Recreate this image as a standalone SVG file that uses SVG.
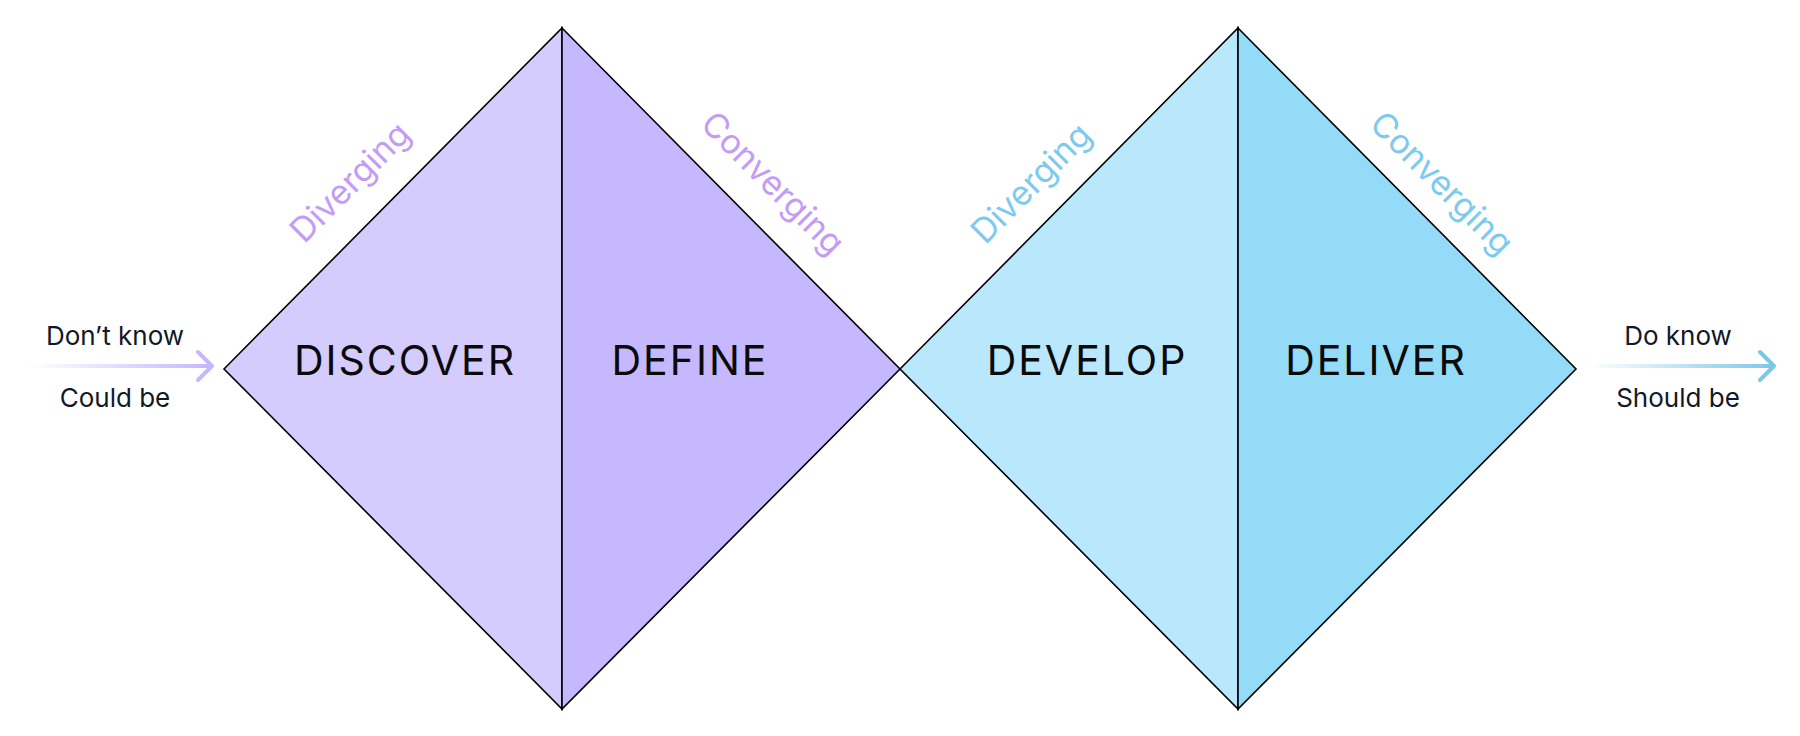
<svg xmlns="http://www.w3.org/2000/svg" width="1800" height="736" viewBox="0 0 1800 736">
<defs>
<linearGradient id="gl" gradientUnits="userSpaceOnUse" x1="28" y1="0" x2="212" y2="0">
<stop offset="0" stop-color="#c6b6fb" stop-opacity="0"/>
<stop offset="1" stop-color="#c6b6fb"/>
</linearGradient>
<linearGradient id="gr" gradientUnits="userSpaceOnUse" x1="1588" y1="0" x2="1775" y2="0">
<stop offset="0" stop-color="#7cc7e8" stop-opacity="0"/>
<stop offset="1" stop-color="#7cc7e8"/>
</linearGradient>
<style>
.tri{stroke:#000;stroke-width:1.6;stroke-linejoin:miter}
.phase{font-family:Inter,"Liberation Sans",sans-serif;font-size:41px;fill:#0a0a0a;text-anchor:middle;letter-spacing:2px}
.side{font-family:Inter,"Liberation Sans",sans-serif;font-size:26px;fill:#111827;text-anchor:middle}
.mode{font-family:Inter,"Liberation Sans",sans-serif;font-size:34px;text-anchor:middle}
.p{fill:#c39cf5}
.b{fill:#7ccbef}
.arr{fill:none;stroke-width:4;stroke-linecap:round;stroke-linejoin:round}
</style>
</defs>
<rect width="1800" height="736" fill="#ffffff"/>
<g id="discover">
<polygon class="tri" points="224,369 562,28 562,709" fill="#d5ccfe"/>
<text class="phase" x="405" y="375">DISCOVER</text>
<text class="mode p" transform="translate(352,184) rotate(-45)" y="9">Diverging</text>
</g>
<g id="define">
<polygon class="tri" points="562,28 900,369 562,709" fill="#c6b8fe"/>
<text class="phase" x="690" y="375">DEFINE</text>
<text class="mode p" transform="translate(771,185) rotate(45)" y="9">Converging</text>
</g>
<g id="develop">
<polygon class="tri" points="900,369 1238,28 1238,709" fill="#b9e7fc"/>
<text class="phase" x="1087" y="375">DEVELOP</text>
<text class="mode b" transform="translate(1033,185) rotate(-45)" y="9">Diverging</text>
</g>
<g id="deliver">
<polygon class="tri" points="1238,28 1576,369 1238,709" fill="#93dbf7"/>
<text class="phase" x="1376" y="375">DELIVER</text>
<text class="mode b" transform="translate(1440,185) rotate(45)" y="9">Converging</text>
</g>
<g id="start">
<text class="side" x="115" y="345">Don’t know</text>
<text class="side" x="115" y="407">Could be</text>
</g>
<g id="end">
<text class="side" x="1678" y="345">Do know</text>
<text class="side" x="1678" y="407">Should be</text>
</g>
<g id="connectors">
<rect x="28" y="364" width="184" height="4" fill="url(#gl)"/>
<polyline class="arr" stroke="#c6b6fb" points="198,352 212,366 198,380"/>
<rect x="1588" y="364" width="186" height="4" fill="url(#gr)"/>
<polyline class="arr" stroke="#7cc7e8" points="1760,352 1774,366 1760,380"/>
</g>
</svg>
